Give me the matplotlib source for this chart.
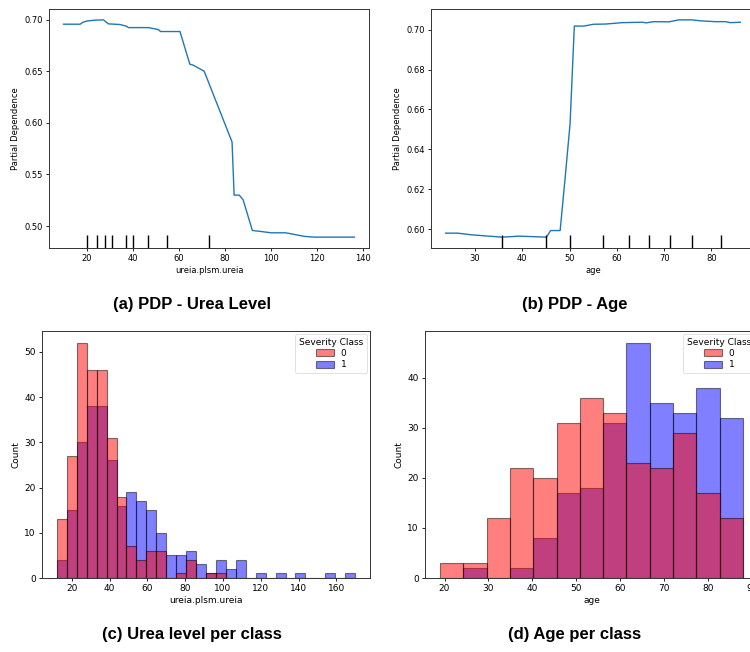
import matplotlib
matplotlib.use("Agg")
import matplotlib.pyplot as plt
import numpy as np

# ---- PDP: urea ----
urea_pdp_x = [9.9, 17.1, 18.3, 20.3, 23.6, 27.2, 29.4, 34.4, 37.3, 38.0, 46.7, 51.0, 52.0, 60.4,
              64.7, 66.0, 70.9, 83.0, 83.9, 86.1, 87.8, 91.8, 100.0, 106.3, 114.5, 118.8, 136.1]
urea_pdp_y = [0.6955, 0.6955, 0.6974, 0.6987, 0.6994, 0.6997, 0.6958, 0.6952, 0.6935, 0.6922, 0.6922,
              0.6903, 0.6884, 0.6884, 0.6567, 0.6560, 0.6500, 0.5814, 0.5300, 0.5300, 0.5255, 0.4958,
              0.4935, 0.4935, 0.4900, 0.4893, 0.4893]
urea_deciles = [20.0, 24.2, 28.1, 31.1, 37.0, 40.0, 46.4, 54.8, 73.1]

# ---- PDP: age ----
age_pdp_x = [23.8, 26.3, 29.1, 32.3, 35.8, 39.3, 45.1, 46.0, 48.0, 49.0, 50.1, 51.0, 53.0, 55.1,
             57.6, 61.1, 65.4, 66.2, 67.8, 71.0, 73.1, 75.9, 77.7, 80.8, 83.0, 84.0, 86.1]
age_pdp_y = [0.5980, 0.5980, 0.5972, 0.5966, 0.5960, 0.5965, 0.5960, 0.5993, 0.5993, 0.6243, 0.6528,
             0.7018, 0.7018, 0.7027, 0.7028, 0.7035, 0.7037, 0.7034, 0.7040, 0.7039, 0.7049, 0.7049,
             0.7044, 0.7040, 0.7040, 0.7035, 0.7037]
age_deciles = [35.8, 45.1, 50.0, 57.0, 62.6, 66.9, 71.3, 75.9, 82.1]

# ---- Histogram: urea per class ----
urea_bin_start = 12.1
urea_bin_width = 5.26
urea_counts_0 = [13, 27, 52, 46, 46, 31, 18, 7, 4, 6, 6, 0, 1, 4, 0, 1, 1, 0, 0, 0,
                 0, 0, 0, 0, 0, 0, 0, 0, 0, 0]
urea_counts_1 = [4, 15, 30, 38, 38, 26, 16, 19, 17, 15, 10, 5, 5, 6, 3, 1, 4, 2, 4, 0,
                 1, 0, 1, 0, 1, 0, 0, 1, 0, 1]

# ---- Histogram: age per class ----
age_bin_start = 19.0
age_bin_width = 5.3
age_counts_0 = [3, 3, 12, 22, 20, 31, 36, 33, 23, 22, 29, 17, 12]
age_counts_1 = [0, 2, 0, 2, 8, 17, 18, 31, 47, 35, 33, 38, 32]

class_labels = ["0", "1"]
class_colors = ["red", "blue"]

captions = ["(a) PDP - Urea Level", "(b) PDP - Age", "(c) Urea level per class", "(d) Age per class"]

W, H = 750, 652
fig = plt.figure(figsize=(W / 100, H / 100), dpi=100)


def ax_px(l, r, t, b):
    return fig.add_axes([l / W, 1 - b / H, (r - l) / W, (b - t) / H])


def style(ax, fs):
    ax.tick_params(labelsize=fs, length=2.5, width=0.6, pad=2)
    for s in ax.spines.values():
        s.set_linewidth(0.7)
        s.set_color("#333333")


def pdp(ax, x, y, dec, xlabel):
    fs = 6
    ax.plot(x, y, color="#1f77b4", lw=1.0)
    ax.vlines(dec, 0, 0.055, transform=ax.get_xaxis_transform(), color="k", lw=1.0)
    ax.set_xlabel(xlabel, fontsize=fs, labelpad=2)
    ax.set_ylabel("Partial Dependence", fontsize=fs, labelpad=3)
    style(ax, fs)


def hist(ax, start, width, c0, c1, xlabel):
    fs = 6.5
    n = len(c0)
    edges = start + width * np.arange(n + 1)
    centers = (edges[:-1] + edges[1:]) / 2
    for counts, col, lab in [(c1, class_colors[1], class_labels[1]), (c0, class_colors[0], class_labels[0])]:
        ax.hist(centers, bins=edges, weights=counts, color=col, alpha=0.5,
                edgecolor=(0, 0, 0, 0.9), linewidth=0.8, label=lab)
    ax.set_xlabel(xlabel, fontsize=fs, labelpad=2)
    ax.set_ylabel("Count", fontsize=fs, labelpad=3)
    style(ax, fs)
    handles, labels = ax.get_legend_handles_labels()
    leg = ax.legend(handles[::-1], labels[::-1], title="Severity Class", fontsize=fs,
                    title_fontsize=fs, loc="upper right", borderaxespad=0.35,
                    handlelength=2.0, handleheight=0.8, labelspacing=0.25)
    leg.get_frame().set_linewidth(0.5)


ax1 = ax_px(49, 369, 9, 248)
pdp(ax1, urea_pdp_x, urea_pdp_y, urea_deciles, "ureia.plsm.ureia")
ax1.set_xticks([20, 40, 60, 80, 100, 120, 140])

ax2 = ax_px(431, 755, 9, 248)
pdp(ax2, age_pdp_x, age_pdp_y, age_deciles, "age")

ax3 = ax_px(42, 370, 331, 578)
hist(ax3, urea_bin_start, urea_bin_width, urea_counts_0, urea_counts_1, "ureia.plsm.ureia")

ax4 = ax_px(425, 758, 331, 578)
hist(ax4, age_bin_start, age_bin_width, age_counts_0, age_counts_1, "age")

cap_pos = [(192, 304), (575, 304), (192, 634), (575, 634)]
for (cx, cy), txt in zip(cap_pos, captions):
    fig.text(cx / W, 1 - cy / H, txt, ha="center", va="center", fontsize=12,
             fontweight="bold", family="Liberation Sans")

fig.savefig("out.png", dpi=100)
